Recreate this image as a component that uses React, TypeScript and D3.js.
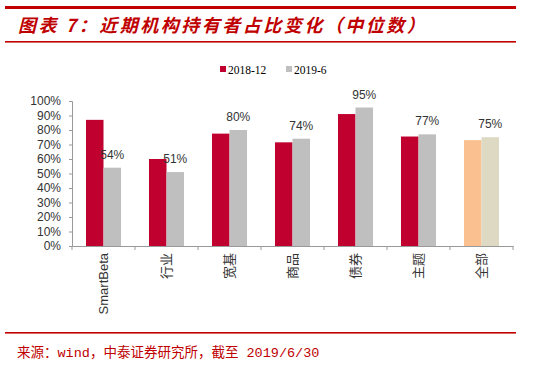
import { useEffect, useRef } from "react"
import * as d3 from "d3"

const categories = ["SmartBeta", "行业", "宽基", "商品", "债券", "主题", "全部"]
const seriesNames = ["2018-12", "2019-6"]
const values2018 = [0.87, 0.6, 0.775, 0.715, 0.91, 0.755, 0.73]
const values2019 = [0.54, 0.51, 0.8, 0.74, 0.955, 0.77, 0.75]
const labels2019 = ["54%", "51%", "80%", "74%", "95%", "77%", "75%"]
const yTicks = [0, 0.1, 0.2, 0.3, 0.4, 0.5, 0.6, 0.7, 0.8, 0.9, 1.0]

const RED = "#C0002F"
const GRAY = "#BFBFBF"
const ORANGE = "#FAC090"
const BEIGE = "#DDD9C3"
const THEME_RED = "#C00000"

export default function App() {
  const svgRef = useRef<SVGSVGElement>(null)

  useEffect(() => {
    if (!svgRef.current) return
    const svg = d3.select(svgRef.current)
    svg.selectAll("*").remove()

    const left = 72
    const right = 513
    const top = 101
    const bottom = 246

    // Header
    svg.append("rect").attr("x", 5).attr("y", 6).attr("width", 511).attr("height", 3).attr("fill", THEME_RED)
    svg.append("text")
      .attr("x", 18)
      .attr("y", 32)
      .attr("fill", THEME_RED)
      .style("font-family", "'Noto Sans CJK SC'")
      .style("font-size", "18px")
      .style("font-weight", "bold")
      .style("font-style", "italic")
      .style("letter-spacing", "2.5px")
      .text("图表 7：近期机构持有者占比变化（中位数）")
    svg.append("rect").attr("x", 5).attr("y", 41).attr("width", 511).attr("height", 1.6).attr("fill", THEME_RED)

    // Scales
    const x0 = d3.scaleBand().domain(categories).range([left, right]).paddingInner(0.444).paddingOuter(0.222)
    const x1 = d3.scaleBand().domain(seriesNames).range([0, x0.bandwidth()])
    const y = d3.scaleLinear().domain([0, 1]).range([bottom, top])

    // Y axis
    const yAxis = svg.append("g")
      .attr("transform", `translate(${left},0)`)
      .call(d3.axisLeft(y).tickValues(yTicks).tickSize(3).tickPadding(8).tickFormat((d) => `${Math.round(+d * 100)}%`))
    yAxis.select(".domain").attr("stroke", "#999")
    yAxis.selectAll(".tick line").attr("stroke", "#999")
    yAxis.selectAll("text")
      .attr("fill", "#333")
      .style("font-family", "'Liberation Sans', Arial")
      .style("font-size", "12px")

    // Bars
    const g = svg.append("g")
    categories.forEach((c, i) => {
      const last = i === categories.length - 1
      g.append("rect")
        .attr("x", (x0(c) || 0) + (x1(seriesNames[0]) || 0))
        .attr("y", y(values2018[i]))
        .attr("width", x1.bandwidth())
        .attr("height", bottom - y(values2018[i]))
        .attr("fill", last ? ORANGE : RED)
      g.append("rect")
        .attr("x", (x0(c) || 0) + (x1(seriesNames[1]) || 0))
        .attr("y", y(values2019[i]))
        .attr("width", x1.bandwidth())
        .attr("height", bottom - y(values2019[i]))
        .attr("fill", last ? BEIGE : GRAY)
      g.append("text")
        .attr("x", (x0(c) || 0) + (x1(seriesNames[1]) || 0) + x1.bandwidth() / 2)
        .attr("y", y(values2019[i]) - 9)
        .attr("text-anchor", "middle")
        .attr("fill", "#333")
        .style("font-family", "'Liberation Sans', Arial")
        .style("font-size", "12px")
        .text(labels2019[i])
    })

    // X axis
    const xAxis = svg.append("g")
      .attr("transform", `translate(0,${bottom})`)
      .call(d3.axisBottom(x0).tickSize(0).tickFormat(() => ""))
    xAxis.select(".domain").attr("stroke", "#999")
    const step = x0.step()
    for (let k = 0; k <= categories.length; k++) {
      xAxis.append("line")
        .attr("x1", left + k * step)
        .attr("x2", left + k * step)
        .attr("y1", 0)
        .attr("y2", 4)
        .attr("stroke", "#999")
    }
    categories.forEach((c) => {
      const cx = (x0(c) || 0) + x0.bandwidth() / 2
      svg.append("text")
        .attr("transform", `translate(${cx + 4.5},253) rotate(-90)`)
        .attr("text-anchor", "end")
        .attr("fill", "#333")
        .style("font-family", "'Liberation Sans', Arial, 'Noto Sans CJK SC'")
        .style("font-size", "13px")
        .text(c)
    })

    // Legend
    const legend = [
      { name: seriesNames[0], color: RED, x: 220 },
      { name: seriesNames[1], color: GRAY, x: 286 },
    ]
    legend.forEach((l) => {
      svg.append("rect").attr("x", l.x).attr("y", 66).attr("width", 6).attr("height", 6).attr("fill", l.color)
      svg.append("text")
        .attr("x", l.x + 8)
        .attr("y", 73.5)
        .attr("fill", "#000")
        .style("font-family", "'Liberation Serif', 'Times New Roman'")
        .style("font-size", "11.5px")
        .text(l.name)
    })

    // Footer
    svg.append("rect").attr("x", 5).attr("y", 332).attr("width", 511).attr("height", 1.6).attr("fill", THEME_RED)
    svg.append("text")
      .attr("x", 17)
      .attr("y", 357)
      .attr("fill", THEME_RED)
      .style("font-family", "'Liberation Mono', 'Noto Sans CJK SC'")
      .style("font-size", "13.5px")
      .text("来源：wind，中泰证券研究所，截至 2019/6/30")
  }, [])

  return (
    <svg
      ref={svgRef}
      width={550}
      height={370}
      style={{ position: "absolute", left: 0, top: 0, background: "#fff" }}
    />
  )
}
